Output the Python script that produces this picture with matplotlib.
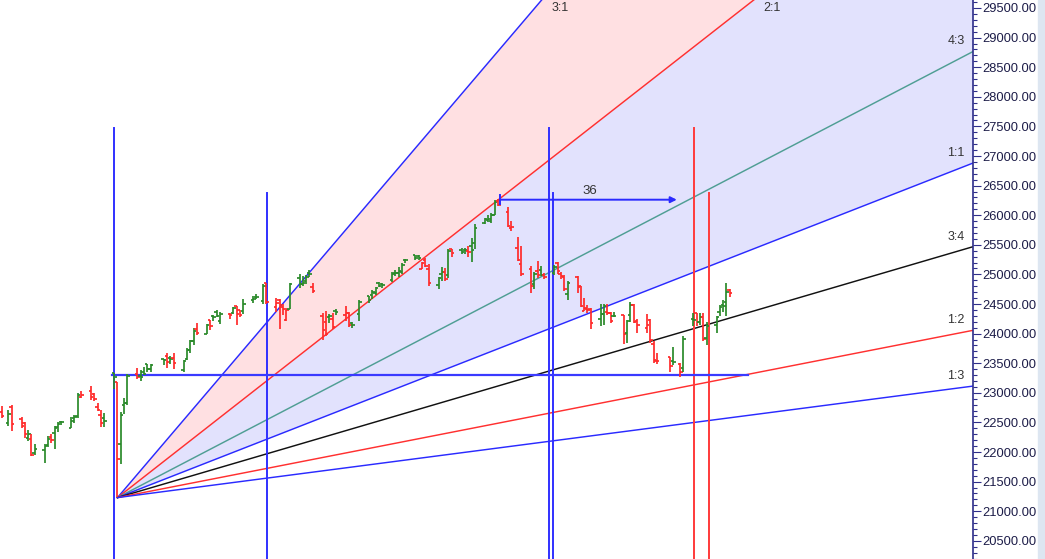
import matplotlib
matplotlib.use("Agg")
import matplotlib.pyplot as plt
from matplotlib.ticker import MultipleLocator, FormatStrFormatter
from matplotlib.patches import Rectangle
import numpy as np
import pandas as pd

# trading sessions shown (NSE, 30 Apr - 6 Dec 2024)
holidays = ["2024-05-01", "2024-05-20", "2024-06-17", "2024-07-17",
            "2024-08-15", "2024-10-02", "2024-11-15", "2024-11-20"]
extra_sessions = ["2024-05-18"]

opens = [22679,
         22489, 22767, 22561, 22489, 22231, 22224, 21990, 22027, 22112, 22255, 22319,
         22415, 22513, 22404, 22577, 22614, 22930, 23039, 22977, 22763, 22617, 22568,
         23338, 23179, 22128, 22798, 22821, 23320, 23283, 23344, 23480, 23400, 23574,
         23629, 23586, 23584, 23382, 23577, 23723, 23881, 24085,
         23992, 24229, 24291, 24369, 24214, 24330, 24351, 24459, 24396, 24388, 24573,
         24615, 24543, 24853, 24445, 24568, 24445, 24231, 24423, 24943, 24839, 24886,
         25030, 24789, 24303, 24189, 24289, 24248, 24387, 24320, 24342, 24184, 24334,
         24637, 24648, 24680, 24863, 24845, 24906, 25025, 25031, 25035, 25249,
         25333, 25313, 25089, 25250, 25093, 24823, 24999, 25034, 24986, 25431, 25406,
         25416, 25402, 25488, 25525, 25873, 25921, 25899, 26005, 26248, 26061,
         25788, 25453, 25181, 25084, 24832, 25066, 25067, 24986, 25023, 25186, 25008,
         24958, 24664, 24956, 24799, 24378, 24412, 24418, 24252, 24323, 24371, 24349,
         24302, 24315, 24005, 24308, 24489, 24207, 24087, 24225, 23822, 23542, 23605,
         23530, 23488, 23412, 24254, 24343, 24204, 24274, 23928,
         24140, 24367, 24489, 24540, 24729]
highs = [22783,
         22711, 22794, 22588, 22499, 22369, 22307, 22131, 22132, 22270, 22298, 22432,
         22502, 22525, 22591, 22630, 22994, 23027, 23111, 22998, 22826, 22705, 22653,
         23338, 23179, 22670, 22910, 23320, 23411, 23389, 23442, 23481, 23490, 23579,
         23665, 23625, 23668, 23558, 23754, 23889, 24087, 24174,
         24164, 24237, 24309, 24401, 24364, 24345, 24444, 24461, 24402, 24592, 24635,
         24661, 24837, 24855, 24595, 24582, 24504, 24426, 24861, 24999, 24971, 24984,
         25078, 24851, 24351, 24382, 24337, 24340, 24420, 24473, 24359, 24196, 24563,
         24638, 24735, 24787, 24867, 24858, 25044, 25074, 25129, 25192, 25268,
         25333, 25321, 25217, 25275, 25168, 24957, 25131, 25114, 25433, 25433, 25446,
         25441, 25482, 25611, 25849, 25957, 26011, 26033, 26250, 26277, 26135,
         25907, 25639, 25486, 25144, 25044, 25234, 25134, 25028, 25159, 25212, 25046,
         24983, 24886, 24979, 24799, 24604, 24480, 24440, 24492, 24499, 24499, 24372,
         24368, 24316, 24229, 24537, 24503, 24248, 24336, 24242, 23873, 23675, 23606,
         23780, 23507, 23956, 24351, 24343, 24354, 24345, 24189,
         24301, 24481, 24573, 24857, 24751]
lows = [22568,
        22432, 22348, 22409, 22232, 22185, 21932, 21950, 21821, 22081, 22151, 22054,
        22345, 22461, 22404, 22483, 22577, 22908, 22871, 22858, 22685, 22418, 22417,
        23062, 21240, 21791, 22642, 22789, 23227, 23206, 23295, 23353, 23353, 23473,
        23413, 23485, 23398, 23350, 23562, 23674, 23805, 23985,
        23992, 24057, 24207, 24281, 24168, 24240, 24331, 24141, 24283, 24332, 24522,
        24587, 24505, 24504, 24363, 24074, 24308, 24211, 24410, 24774, 24799, 24845,
        24956, 24687, 23893, 23960, 24185, 24079, 24311, 24212, 24116, 24099, 24205,
        24522, 24580, 24651, 24784, 24771, 24874, 24973, 24964, 24999, 25199,
        25235, 25235, 25084, 25127, 24802, 24753, 24896, 24885, 24942, 25292, 25345,
        25353, 25286, 25203, 25426, 25847, 25886, 25872, 25998, 26151, 25795,
        25739, 25230, 24966, 24694, 24756, 24947, 24979, 24920, 24988, 25008, 24929,
        24728, 24568, 24679, 24446, 24378, 24341, 24073, 24134, 24141, 24307, 24172,
        24280, 23817, 23842, 24204, 24180, 24004, 24004, 23839, 23509, 23484, 23350,
        23464, 23263, 23360, 24135, 24125, 24145, 23874, 23805,
        24008, 24302, 24366, 24296, 24621]
closes = [22605,
          22648, 22476, 22443, 22303, 22303, 21958, 22055, 22104, 22218, 22201, 22404,
          22467, 22502, 22529, 22598, 22968, 22957, 22932, 22888, 22705, 22488, 22531,
          23264, 21884, 22620, 22821, 23290, 23259, 23265, 23323, 23399, 23466, 23558,
          23516, 23567, 23501, 23538, 23721, 23869, 24044, 24011,
          24142, 24124, 24286, 24302, 24324, 24321, 24433, 24324, 24316, 24502, 24587,
          24613, 24801, 24531, 24509, 24479, 24413, 24406, 24835, 24836, 24857, 24951,
          25011, 24718, 24056, 23992, 24297, 24117, 24368, 24347, 24139, 24144, 24541,
          24573, 24699, 24770, 24811, 24823, 25011, 25017, 25052, 25152, 25236,
          25279, 25280, 25199, 25145, 24852, 24936, 25041, 24918, 25389, 25357, 25384,
          25419, 25378, 25416, 25791, 25939, 25940, 26004, 26216, 26179, 25811,
          25797, 25250, 25015, 24796, 25013, 24982, 24998, 24964, 25128, 25057, 24971,
          24750, 24854, 24781, 24472, 24435, 24399, 24181, 24339, 24467, 24341, 24205,
          24304, 23996, 24213, 24484, 24199, 24148, 24141, 23884, 23559, 23533, 23453,
          23518, 23350, 23907, 24222, 24194, 24275, 23914, 24131,
          24276, 24457, 24467, 24708, 24678]

# gann fan from the 4 Jun low
fan_origin_date = "2024-06-04"
fan_origin_price = 21230
fan_unit = 21.86         # points per day for the 1:1 line
fan_ratios = [3, 2, 4 / 3, 1, 3 / 4, 1 / 2, 1 / 3]
fan_labels = ["3:1", "2:1", "4:3", "1:1", "3:4", "1:2", "1:3"]
fan_colors = ["#2a2aff", "#ff3030", "#4f9e94", "#2a2aff", "#111111", "#ff3030", "#2a2aff"]

# time lines (day offsets from fan origin) and their top price
vline_days = [-1.06, 45.2, 130.4, 131.6, 174.2, 178.7]
vline_tops = [27470, 26380, 27470, 26380, 27470, 26380]
vline_colors = ["#3030ff", "#3030ff", "#3030ff", "#3030ff", "#ff3a3a", "#ff3a3a"]

level_price = 23305
level_span = (-1.7, 190.5)
arrow_price = 26262          # 27 Sep high
arrow_span = (115.5, 169)
arrow_text = "36"

# ---------------------------------------------------------------
days = pd.bdate_range("2024-04-30", "2024-12-06")
days = days.drop(pd.to_datetime(holidays)).union(pd.to_datetime(extra_sessions))
x = np.array((days - pd.Timestamp(fan_origin_date)).days, dtype=float)
assert len(x) == len(opens) == len(highs) == len(lows) == len(closes)

o = np.array(opens); h = np.array(highs); l = np.array(lows); c = np.array(closes)
prev = np.concatenate([[o[0]], c[:-1]])
up = c >= prev

fig = plt.figure(figsize=(10.45, 5.59), dpi=100)
ax = fig.add_axes([0, 0, 973 / 1045, 1])
xmin, xmax = -35.5, 258.5
ymin, ymax = 20193, 29635
ax.set_xlim(xmin, xmax)
ax.set_ylim(ymin, ymax)

# fan shading
xs = np.linspace(0, xmax, 400)
fan = [fan_origin_price + r * fan_unit * xs for r in fan_ratios]
ax.fill_between(xs, fan[1], fan[0], color="#ffe0e2", lw=0, zorder=0)
ax.fill_between(xs, fan[3], fan[1], color="#e2e2fd", lw=0, zorder=0)

for yy, col in zip(fan, fan_colors):
    ax.plot(xs, yy, color=col, lw=1.05, zorder=2)

# labels of fan lines
for lab, r in zip(fan_labels, fan_ratios):
    yend = fan_origin_price + r * fan_unit * xmax
    if yend < ymax:
        ax.annotate(lab, xy=(xmax, yend), xytext=(-6, 3), textcoords="offset points",
                    ha="right", va="bottom", fontsize=9, color="#333333",
                    family="Liberation Sans")
    else:
        xe = (ymax - fan_origin_price) / (r * fan_unit)
        ax.annotate(lab, xy=(xe, ymax), xytext=(13, -6), textcoords="offset points",
                    ha="center", va="center", fontsize=9, color="#333333",
                    family="Liberation Sans")

# time lines and price level
for d, top, col in zip(vline_days, vline_tops, vline_colors):
    ax.plot([d, d], [ymin, top], color=col, lw=1.4, zorder=3)
ax.plot(level_span, [level_price, level_price], color="#3a3aff", lw=1.6, zorder=3)

# bars
tick = 0.75
for xi, oi, hi, li, ci, u in zip(x, o, h, l, c, up):
    col = "#2a8a2a" if u else "#ff2a2a"
    ax.plot([xi, xi], [li, hi], color=col, lw=1.25, zorder=4, solid_capstyle="butt")
    ax.plot([xi - tick, xi], [oi, oi], color=col, lw=1.25, zorder=4, solid_capstyle="butt")
    ax.plot([xi, xi + tick], [ci, ci], color=col, lw=1.25, zorder=4, solid_capstyle="butt")

# count arrow
ax.annotate("", xy=(arrow_span[1], arrow_price), xytext=(arrow_span[0], arrow_price),
            arrowprops=dict(arrowstyle="-|>", color="#2a2aff", lw=1.4,
                            mutation_scale=9, shrinkA=0, shrinkB=0), zorder=5)
ax.plot([arrow_span[0], arrow_span[0]], [arrow_price - 80, arrow_price + 80],
        color="#2a2aff", lw=1.4, zorder=5)
ax.text((arrow_span[0] + arrow_span[1]) / 2 + 0.5, arrow_price + 150, arrow_text,
        ha="center", va="center", fontsize=9.5, color="#333333", family="Liberation Sans")

# right price axis
for s in ["left", "top", "bottom"]:
    ax.spines[s].set_visible(False)
ax.spines["right"].set_color("#2e2e8a")
ax.spines["right"].set_linewidth(1.2)
ax.set_xticks([])
ax.yaxis.tick_right()
ax.yaxis.set_major_locator(MultipleLocator(500))
ax.yaxis.set_minor_locator(MultipleLocator(100))
ax.yaxis.set_major_formatter(FormatStrFormatter("%.2f"))
ax.tick_params(axis="y", which="major", length=6, width=0.8, color="#2e2e8a",
               labelsize=9.3, labelcolor="#1c1c48", pad=1)
ax.tick_params(axis="y", which="minor", length=3, width=0.8, color="#2e2e8a")
for t in ax.get_yticklabels():
    t.set_family("Liberation Sans")

fig.patches.append(Rectangle((1038 / 1045, 0), 7 / 1045, 1, transform=fig.transFigure,
                             color="#dde6f1", zorder=0))

fig.savefig("out.png", dpi=100)
